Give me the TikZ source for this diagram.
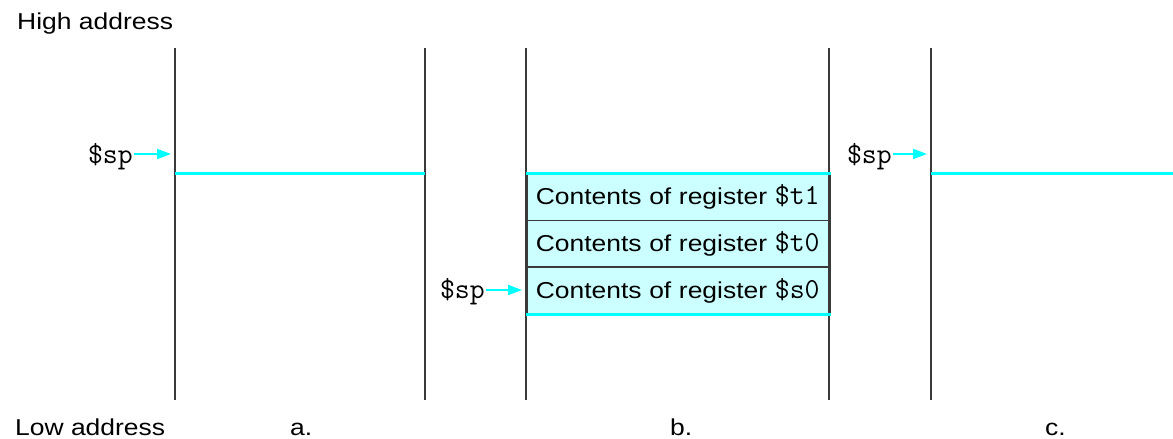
\documentclass[tikz,border=0pt]{standalone}
\usepackage{fontspec}
\setmainfont{Liberation Sans}[FakeStretch=1.15]
\setmonofont{Latin Modern Mono}[Scale=1.26]
\usetikzlibrary{arrows.meta}
\definecolor{linegray}{HTML}{3A3A3A}
\definecolor{spcyan}{HTML}{00FFFF}
\definecolor{boxfill}{HTML}{CCFFFF}
\begin{document}
\begin{tikzpicture}[x=1pt,y=-1pt,
  font=\fontsize{23}{27}\selectfont,
  wall/.style={draw=linegray, line width=2pt},
  spline/.style={draw=spcyan, line width=3pt},
  regbox/.style={draw=linegray, line width=1.5pt, fill=boxfill,
    minimum height=46.7pt, text width=285pt, inner xsep=9pt, inner ysep=0pt,
    align=left, anchor=north west},
  splabel/.style={font=\fontsize{23}{27}\selectfont\ttfamily, anchor=base east, inner sep=0pt},
  sparrow/.style={draw=spcyan, line width=2pt, -{Triangle[length=14pt,width=10pt]}},
  lbl/.style={anchor=base west, inner sep=0pt}]
\useasboundingbox (0,0) rectangle (1173,439);

% register boxes
\node[regbox] (r1) at (526,173) {\mbox{Contents of register \texttt{\$t1}}};
\node[regbox] (r2) at (526,219.7) {\mbox{Contents of register \texttt{\$t0}}};
\node[regbox] (r3) at (526,266.4) {\mbox{Contents of register \texttt{\$s0}}};

% walls
\coordinate (w1t) at (175,48);  \coordinate (w1b) at (175,400);
\coordinate (w2t) at (425,48);  \coordinate (w2b) at (425,400);
\coordinate (w3t) at (526,48);  \coordinate (w3b) at (526,400);
\coordinate (w4t) at (829,48);  \coordinate (w4b) at (829,400);
\coordinate (w5t) at (931,48);  \coordinate (w5b) at (931,400);
\foreach \w in {1,...,5} \draw[wall] (w\w t) -- (w\w b);

% stack pointer lines
\coordinate (aL) at (175,173); \coordinate (aR) at (425,173);
\coordinate (cL) at (931,173); \coordinate (cR) at (1173,173);
\draw[spline] (aL) -- (aR);
\draw[spline] (r1.north west) -- (r1.north east);
\draw[spline] (r3.south west) -- (r3.south east);
\draw[spline] (cL) -- (cR);

% $sp labels and arrows
\node[splabel] (spa) at (133,163) {\$sp};
\coordinate (spaTip) at (171,154);
\draw[sparrow] ([xshift=1pt]spa.east |- spaTip) -- (spaTip);

\node[splabel] (spb) at (485,298) {\$sp};
\coordinate (spbTip) at (522,290);
\draw[sparrow] ([xshift=1pt]spb.east |- spbTip) -- (spbTip);

\node[splabel] (spc) at (892,163) {\$sp};
\coordinate (spcTip) at (927,154);
\draw[sparrow] ([xshift=1pt]spc.east |- spcTip) -- (spcTip);

% labels
\node[lbl] (high) at (17,29) {High address};
\node[lbl] (low) at (15,435) {Low address};
\node[lbl] (la) at (290,435) {a.};
\node[lbl] (lb) at (670,435) {b.};
\node[lbl] (lc) at (1045,435) {c.};
\end{tikzpicture}
\end{document}
